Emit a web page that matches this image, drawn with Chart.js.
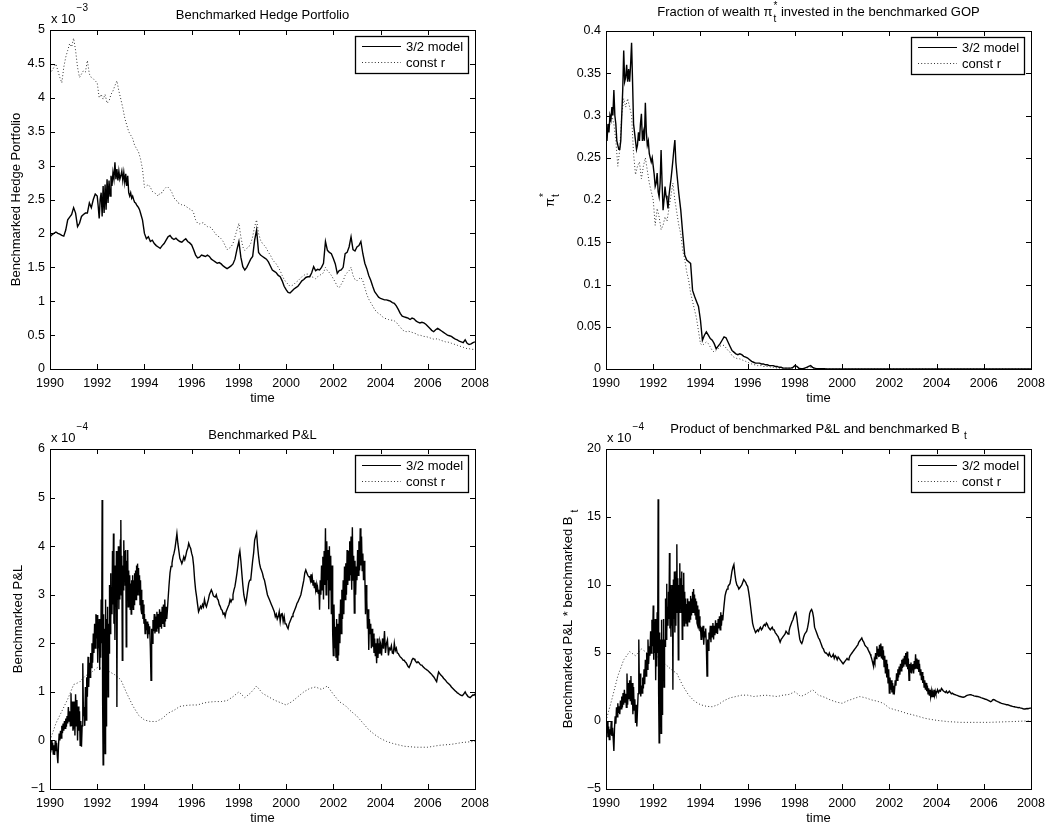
<!DOCTYPE html>
<html>
<head>
<meta charset="utf-8">
<title>Benchmarked hedge portfolio: 3/2 model vs const r</title>
<script src="https://cdn.jsdelivr.net/npm/chart.js@4"></script>
<style>
  html, body { margin: 0; padding: 0; background: #fff; }
  #wrap { position: relative; width: 1058px; height: 825px; background: #fff; }
  #wrap canvas { position: absolute; }
</style>
</head>
<body>
<div id="wrap">
  <canvas id="c1" width="529" height="410" style="left:0;top:0"></canvas>
  <canvas id="c2" width="529" height="410" style="left:529px;top:0"></canvas>
  <canvas id="c3" width="529" height="415" style="left:0;top:410px"></canvas>
  <canvas id="c4" width="529" height="415" style="left:529px;top:410px"></canvas>
</div>
<script>
// ---------------------------------------------------------------------------
// Data. Each row holds one calendar year, sampled evenly inside the year
// (more samples in the turbulent years); the last row is the single value
// at the start of 2008.
// ---------------------------------------------------------------------------
const yearTicks = [1990, 1992, 1994, 1996, 1998, 2000, 2002, 2004, 2006, 2008];

// Benchmarked hedge portfolio, units of 1e-3
const hedgeModel = [
  [1.95, 1.98, 2.0, 2.02, 2.0, 1.99, 1.97, 1.96, 2.05, 2.2, 2.24, 2.28],
  [2.38, 2.3, 2.1, 2.15, 2.25, 2.28, 2.3, 2.3, 2.45, 2.38, 2.5, 2.58],
  [2.55, 2.4, 2.22, 2.5, 2.6, 2.25, 2.7, 2.3, 2.72, 2.35, 2.8, 2.45, 2.78, 2.55, 2.85, 2.7, 2.9, 2.8, 3.05, 2.8, 2.95, 2.78, 2.92, 2.8],
  [2.85, 2.92, 2.78, 2.9, 2.75, 2.88, 2.7, 2.85, 2.6, 2.55, 2.6, 2.52, 2.55, 2.5, 2.46, 2.45, 2.42, 2.4, 2.38, 2.35, 2.3, 2.25, 2.2, 2.1],
  [2.0, 1.92, 1.95, 1.88, 1.9, 1.85, 1.82, 1.8, 1.78, 1.82, 1.85, 1.9],
  [1.95, 1.97, 1.93, 1.91, 1.93, 1.9, 1.88, 1.87, 1.9, 1.92, 1.88, 1.86],
  [1.83, 1.76, 1.68, 1.64, 1.65, 1.68, 1.67, 1.66, 1.68, 1.66, 1.62, 1.6],
  [1.58, 1.56, 1.57, 1.55, 1.52, 1.5, 1.48, 1.5, 1.52, 1.55, 1.62, 1.76],
  [1.88, 1.65, 1.51, 1.46, 1.5, 1.56, 1.62, 1.66, 1.9, 2.05, 1.72, 1.68],
  [1.66, 1.64, 1.62, 1.58, 1.52, 1.46, 1.44, 1.42, 1.38, 1.36, 1.3, 1.22],
  [1.17, 1.13, 1.12, 1.15, 1.18, 1.2, 1.22, 1.26, 1.3, 1.32, 1.35, 1.36],
  [1.36, 1.42, 1.51, 1.45, 1.47, 1.46, 1.5, 1.56, 1.88, 1.75, 1.72, 1.7],
  [1.63, 1.55, 1.41, 1.45, 1.46, 1.5, 1.7, 1.72, 1.8, 1.95, 1.76, 1.74],
  [1.8, 1.82, 1.88, 1.7, 1.56, 1.48, 1.38, 1.31, 1.22, 1.14, 1.1, 1.06],
  [1.04, 1.03, 1.02, 1.02, 1.01, 1.0, 0.98, 0.97, 0.93, 0.88, 0.82, 0.78],
  [0.77, 0.76, 0.75, 0.73, 0.75, 0.74, 0.71, 0.69, 0.68, 0.69, 0.68, 0.66],
  [0.63, 0.6, 0.57, 0.55, 0.58, 0.6, 0.58, 0.56, 0.54, 0.52, 0.5, 0.49],
  [0.48, 0.46, 0.44, 0.43, 0.41, 0.4, 0.39, 0.43, 0.38, 0.36, 0.37, 0.39],
  [0.4]
];
const hedgeConstR = [
  [4.35, 4.4, 4.45, 4.5, 4.4, 4.3, 4.22, 4.45, 4.6, 4.7, 4.8, 4.75],
  [4.88, 4.7, 4.45, 4.3, 4.35, 4.4, 4.38, 4.55, 4.35, 4.3, 4.28, 4.25],
  [4.22, 4.0, 4.05, 3.98, 4.05, 3.92, 3.95, 4.05, 4.1, 4.18, 4.25, 4.1],
  [3.98, 3.85, 3.7, 3.6, 3.5, 3.45, 3.4, 3.3, 3.25, 3.2, 3.1, 2.95],
  [2.68, 2.7, 2.72, 2.68, 2.62, 2.6, 2.58, 2.55, 2.6, 2.6, 2.65, 2.68],
  [2.68, 2.65, 2.6, 2.52, 2.5, 2.45, 2.44, 2.42, 2.42, 2.4, 2.38, 2.36],
  [2.35, 2.3, 2.2, 2.15, 2.14, 2.15, 2.16, 2.12, 2.1, 2.1, 2.08, 2.04],
  [2.0, 1.96, 1.95, 1.92, 1.88, 1.82, 1.76, 1.78, 1.8, 1.85, 1.95, 2.05],
  [2.15, 1.95, 1.8, 1.75, 1.78, 1.8, 1.85, 1.95, 2.1, 2.2, 2.0, 1.9],
  [1.85, 1.82, 1.78, 1.72, 1.68, 1.62, 1.58, 1.55, 1.5, 1.45, 1.38, 1.32],
  [1.28, 1.25, 1.22, 1.23, 1.25, 1.28, 1.3, 1.33, 1.36, 1.38, 1.4, 1.4],
  [1.38, 1.36, 1.35, 1.33, 1.36, 1.38, 1.4, 1.42, 1.5, 1.45, 1.42, 1.38],
  [1.33, 1.28, 1.22, 1.2, 1.25, 1.3, 1.38, 1.42, 1.45, 1.5, 1.38, 1.32],
  [1.3, 1.33, 1.35, 1.3, 1.2, 1.1, 1.03, 0.98, 0.93, 0.88, 0.84, 0.82],
  [0.8, 0.77, 0.75, 0.74, 0.73, 0.72, 0.72, 0.71, 0.69, 0.65, 0.62, 0.58],
  [0.56, 0.55, 0.56, 0.55, 0.54, 0.53, 0.52, 0.5, 0.5, 0.49, 0.48, 0.48],
  [0.47, 0.46, 0.45, 0.44, 0.44, 0.45, 0.43, 0.42, 0.41, 0.4, 0.4, 0.39],
  [0.38, 0.37, 0.36, 0.35, 0.34, 0.33, 0.32, 0.31, 0.3, 0.3, 0.29, 0.29],
  [0.29]
];
const hedgeTicks = [0, 0.5, 1, 1.5, 2, 2.5, 3, 3.5, 4, 4.5, 5];

// Fraction of wealth pi*_t held in the benchmarked GOP
const piModel = [
  [0.28, 0.27, 0.29, 0.28, 0.3, 0.295, 0.31, 0.3, 0.33, 0.3, 0.29, 0.27, 0.265, 0.26, 0.26, 0.27, 0.3, 0.33, 0.377, 0.34, 0.345, 0.36, 0.34, 0.355],
  [0.34, 0.36, 0.386, 0.34, 0.29, 0.28, 0.27, 0.26, 0.265, 0.28, 0.27, 0.29, 0.302, 0.27, 0.28, 0.27, 0.315, 0.28, 0.265, 0.27, 0.255, 0.25, 0.245, 0.25],
  [0.24, 0.23, 0.216, 0.22, 0.232, 0.21, 0.204, 0.22, 0.259, 0.22, 0.188, 0.2, 0.216, 0.205, 0.2, 0.19, 0.205, 0.215, 0.224, 0.235, 0.247, 0.26, 0.271, 0.245],
  [0.232, 0.208, 0.188, 0.16, 0.135, 0.129, 0.127, 0.125, 0.093, 0.086, 0.08, 0.074],
  [0.058, 0.034, 0.04, 0.044, 0.04, 0.036, 0.034, 0.03, 0.024, 0.027, 0.03, 0.034],
  [0.038, 0.037, 0.032, 0.027, 0.022, 0.02, 0.018, 0.017, 0.018, 0.017, 0.015, 0.014],
  [0.013, 0.011, 0.009, 0.008, 0.007, 0.007, 0.007, 0.006, 0.006, 0.005, 0.005, 0.004],
  [0.004, 0.004, 0.003, 0.003, 0.002, 0.002, 0.001, 0.001, 0.001, 0.001, 0.001, 0.002],
  [0.004, 0.003, 0.001, 0.0005, 0.0005, 0.001, 0.002, 0.003, 0.004, 0.002, 0.001, 0.0005],
  [0.0005, 0.0005, 0.0003, 0.0003, 0.0002, 0.0002, 0.0001, 0.0001, 0.0001, 0, 0, 0],
  [0, 0, 0, 0, 0, 0, 0, 0, 0, 0, 0, 0],
  [0, 0, 0, 0, 0, 0, 0, 0, 0, 0, 0, 0],
  [0, 0, 0, 0, 0, 0, 0, 0, 0, 0, 0, 0],
  [0, 0, 0, 0, 0, 0, 0, 0, 0, 0, 0, 0],
  [0, 0, 0, 0, 0, 0, 0, 0, 0, 0, 0, 0],
  [0, 0, 0, 0, 0, 0, 0, 0, 0, 0, 0, 0],
  [0, 0, 0, 0, 0, 0, 0, 0, 0, 0, 0, 0],
  [0, 0, 0, 0, 0, 0, 0, 0, 0, 0, 0, 0],
  [0]
];
const piConstR = [
  [0.27, 0.28, 0.29, 0.3, 0.29, 0.27, 0.24, 0.26, 0.3, 0.32, 0.31, 0.32],
  [0.31, 0.3, 0.255, 0.23, 0.24, 0.245, 0.225, 0.24, 0.25, 0.235, 0.22, 0.21],
  [0.2, 0.17, 0.19, 0.18, 0.165, 0.17, 0.18, 0.175, 0.19, 0.205, 0.22, 0.2],
  [0.185, 0.17, 0.16, 0.14, 0.13, 0.115, 0.105, 0.09, 0.08, 0.07, 0.06, 0.045],
  [0.03, 0.028, 0.03, 0.032, 0.03, 0.026, 0.022, 0.02, 0.022, 0.024, 0.027, 0.028],
  [0.028, 0.025, 0.022, 0.02, 0.016, 0.014, 0.013, 0.012, 0.012, 0.011, 0.01, 0.009],
  [0.008, 0.007, 0.006, 0.005, 0.005, 0.004, 0.004, 0.004, 0.003, 0.003, 0.003, 0.003],
  [0.002, 0.002, 0.002, 0.001, 0.001, 0.001, 0.001, 0.001, 0.001, 0.001, 0.001, 0.001],
  [0.002, 0.001, 0.0005, 0, 0, 0.001, 0.001, 0.002, 0.002, 0.001, 0.0005, 0],
  [0, 0, 0, 0, 0, 0, 0, 0, 0, 0, 0, 0],
  [0, 0, 0, 0, 0, 0, 0, 0, 0, 0, 0, 0],
  [0, 0, 0, 0, 0, 0, 0, 0, 0, 0, 0, 0],
  [0, 0, 0, 0, 0, 0, 0, 0, 0, 0, 0, 0],
  [0, 0, 0, 0, 0, 0, 0, 0, 0, 0, 0, 0],
  [0, 0, 0, 0, 0, 0, 0, 0, 0, 0, 0, 0],
  [0, 0, 0, 0, 0, 0, 0, 0, 0, 0, 0, 0],
  [0, 0, 0, 0, 0, 0, 0, 0, 0, 0, 0, 0],
  [0, 0, 0, 0, 0, 0, 0, 0, 0, 0, 0, 0],
  [0]
];
const piTicks = [0, 0.05, 0.1, 0.15, 0.2, 0.25, 0.3, 0.35, 0.4];

// Benchmarked P&L, units of 1e-4
const pnlModel = [
  [-0.1, -0.25, 0.0, -0.2, -0.05, -0.28, -0.1, -0.3, 0.0, -0.22, -0.05, -0.3, -0.47, -0.1, 0.14, 0.0, 0.2, 0.05, 0.3, 0.15, 0.35, 0.2, 0.4, 0.25, 0.45, 0.28, 0.5, 0.35, 0.69, 0.4, 0.6, 0.3, 0.97, 0.3, 0.8, 0.2],
  [0.28, 0.8, 0.1, 0.95, 0.3, 0.83, 0.0, 0.7, 0.2, 0.6, -0.1, 0.4, -0.13, 0.3, 1.59, 0.5, 0.69, 0.3, 1.1, 0.42, 1.3, 0.9, 1.72, 1.1, 1.6, 1.3, 1.8, 1.5, 2.0, 1.6, 2.2, 1.8, 2.4, 1.9, 2.6, 2.1],
  [2.58, 1.6, 2.3, 1.9, 2.5, 1.45, 2.2, 1.7, 2.9, 2.0, 4.95, 0.8, -0.5, 2.6, 0.5, 2.3, -0.27, 2.9, 0.3, 2.5, 1.2, 2.75, 0.9, 2.4, 1.8, 3.2, 2.2, 3.44, 2.5, 3.16, 2.6, 3.9, 2.8, 4.26, 2.4, 3.6, 2.07, 3.5, 2.8, 3.9, 0.69, 3.78, 2.9, 4.0, 2.7, 3.9, 2.9, 4.12],
  [4.54, 3.0, 3.8, 1.65, 3.6, 3.1, 4.12, 3.3, 3.9, 3.2, 3.92, 1.93, 3.7, 3.0, 3.92, 2.75, 3.5, 2.8, 3.4, 2.7, 3.23, 2.6, 3.3, 2.75, 3.4, 2.7, 3.3, 2.8, 3.44, 2.9, 3.5, 2.9, 3.6, 3.0, 3.64, 3.1, 3.55, 3.0, 3.4, 2.8, 3.3, 2.7, 3.1, 2.6, 2.89, 2.5, 2.8, 2.4],
  [2.6, 2.2, 2.5, 2.27, 2.45, 2.1, 2.4, 2.2, 2.35, 1.9, 1.24, 2.3, 2.0, 2.48, 2.25, 2.6, 2.2, 2.55, 2.25, 2.65, 2.3, 2.6, 2.2, 2.7, 2.35, 2.65, 2.3, 2.75, 2.4, 2.8, 2.35, 2.9, 2.45, 2.75, 2.5, 2.68],
  [2.9, 3.2, 3.45, 3.58, 3.65, 3.78, 3.85, 3.95, 4.1, 4.26, 4.05, 3.9, 3.75, 3.7, 3.64, 3.7, 3.78, 3.72, 3.8, 3.9, 3.95, 4.06, 4.0, 3.95],
  [3.85, 3.78, 3.6, 3.31, 3.1, 2.96, 2.8, 2.65, 2.7, 2.76, 2.72, 2.8, 2.75, 2.9, 2.8, 2.75, 2.83, 2.9, 3.0, 3.05, 3.1, 3.05, 2.98, 2.96],
  [2.95, 3.0, 2.92, 2.89, 2.8, 2.76, 2.7, 2.68, 2.6, 2.62, 2.55, 2.65, 2.7, 2.75, 2.8, 2.9, 2.85, 2.9, 3.0, 3.1, 3.17, 3.3, 3.44, 3.6],
  [3.8, 3.9, 3.7, 3.44, 3.2, 3.0, 2.9, 2.82, 2.95, 3.1, 3.24, 3.3, 3.3, 3.5, 3.7, 3.86, 4.12, 4.2, 4.27, 4.0, 3.8, 3.64, 3.55, 3.5],
  [3.44, 3.35, 3.3, 3.2, 3.1, 3.0, 2.95, 2.9, 2.85, 2.8, 2.75, 2.7, 2.65, 2.55, 2.6, 2.5, 2.55, 2.65, 2.45, 2.6, 2.61, 2.45, 2.55, 2.4],
  [2.4, 2.34, 2.3, 2.4, 2.45, 2.5, 2.55, 2.6, 2.65, 2.7, 2.75, 2.82, 2.85, 2.9, 2.95, 3.0, 3.1, 3.2, 3.3, 3.45, 3.51, 3.45, 3.4, 3.37],
  [3.37, 3.3, 3.42, 3.25, 3.35, 3.2, 3.3, 3.15, 3.25, 3.1, 3.2, 3.05, 3.15, 3.03, 3.1, 2.69, 3.3, 3.0, 3.6, 3.1, 3.78, 2.9, 3.9, 3.2, 4.37, 3.0, 4.1, 3.3, 3.92, 2.7, 4.0, 3.1, 3.8, 2.6, 3.6, 2.2],
  [1.75, 2.8, 1.9, 2.34, 1.7, 2.5, 1.65, 2.4, 1.75, 2.61, 2.0, 2.9, 2.2, 3.1, 2.5, 3.3, 2.6, 3.58, 2.9, 3.65, 3.0, 3.92, 3.2, 3.9, 3.3, 4.1, 3.4, 4.2, 3.1, 4.39, 3.3, 3.8, 2.62, 3.7, 3.0, 3.58],
  [3.3, 3.92, 3.4, 4.1, 3.5, 4.37, 3.6, 4.2, 3.5, 3.85, 3.3, 3.7, 3.44, 2.6, 3.2, 2.89, 2.3, 2.7, 1.86, 2.5, 2.2, 2.4, 1.9, 2.3, 1.93, 2.2, 1.8, 2.1, 1.75, 2.0, 1.59, 2.1, 1.7, 2.0, 1.8, 2.05],
  [2.0, 1.75, 2.1, 1.89, 2.25, 1.8, 2.0, 2.07, 1.75, 1.9, 1.87, 1.95, 1.8, 1.79, 2.0, 1.85, 1.9, 1.8, 1.79, 1.75, 1.72, 1.7, 1.68, 1.65],
  [1.65, 1.62, 1.6, 1.56, 1.52, 1.5, 1.55, 1.6, 1.66, 1.69, 1.68, 1.65, 1.62, 1.6, 1.62, 1.6, 1.57, 1.55, 1.55, 1.52, 1.5, 1.48, 1.47, 1.45],
  [1.44, 1.42, 1.4, 1.38, 1.36, 1.33, 1.31, 1.28, 1.24, 1.21, 1.32, 1.41, 1.38, 1.35, 1.33, 1.31, 1.28, 1.26, 1.24, 1.21, 1.19, 1.17, 1.15, 1.13],
  [1.1, 1.08, 1.06, 1.04, 1.02, 1.0, 0.98, 0.97, 0.95, 0.94, 0.93, 0.92, 0.94, 0.97, 1.0, 0.96, 0.93, 0.9, 0.89, 0.88, 0.9, 0.92, 0.94, 0.93],
  [0.96]
];
const pnlConstR = [
  [0.0, 0.35, 0.6, 0.85],
  [1.15, 1.2, 1.33, 1.4],
  [1.5, 1.48, 1.42, 1.35],
  [1.25, 0.97, 0.72, 0.52],
  [0.42, 0.39, 0.39, 0.45],
  [0.56, 0.62, 0.7, 0.72],
  [0.73, 0.73, 0.77, 0.79],
  [0.8, 0.8, 0.82, 0.9],
  [1.0, 0.88, 0.98, 1.12],
  [0.97, 0.9, 0.83, 0.78],
  [0.73, 0.8, 0.9, 1.0],
  [1.07, 1.1, 1.05, 1.12],
  [0.95, 0.8, 0.72, 0.6],
  [0.5, 0.36, 0.22, 0.12],
  [0.04, -0.02, -0.06, -0.09],
  [-0.12, -0.13, -0.14, -0.14],
  [-0.14, -0.12, -0.1, -0.09],
  [-0.08, -0.06, -0.04, -0.03],
  [-0.02]
];
const pnlTicks = [-1, 0, 1, 2, 3, 4, 5, 6];

// Benchmarked P&L times benchmarked B_t, units of 1e-4
const productModel = [
  [-0.3, -0.9, 0.0, -1.2, -0.4, -1.37, -0.6, -1.0, 0.0, -1.1, -0.5, -1.3, -2.2, -0.5, 0.34, -0.2, 1.0, 0.3, 1.3, 0.6, 1.08, 0.5, 1.5, 0.9, 1.8, 1.0, 2.06, 1.2, 2.3, 1.4, 2.0, 1.0, 3.5, 1.2, 2.8, 1.6],
  [3.0, 1.5, 3.3, 1.2, 2.8, 0.5, 2.5, 0.8, 1.6, -0.15, 1.2, -0.4, 0.8, 2.0, 6.0, 2.0, 3.5, 1.8, 2.6, 2.06, 3.2, 2.4, 3.8, 2.7, 4.5, 3.3, 5.0, 3.8, 6.0, 4.2, 5.5, 4.8, 6.6, 5.0, 7.45, 5.5],
  [8.5, 4.5, 7.0, 5.0, 7.5, 3.0, 6.5, 4.0, 8.0, 5.0, 16.3, 2.0, -1.6, 6.5, 1.0, 6.0, -0.9, 7.45, 0.5, 6.0, 3.0, 7.5, 2.5, 6.0, 5.5, 9.0, 6.0, 10.1, 6.5, 8.4, 7.0, 9.5, 7.5, 12.35, 6.8, 10.0, 6.2, 9.5, 7.0, 10.0, 2.3, 10.4, 7.5, 11.0, 6.5, 10.5, 7.0, 11.0],
  [13.0, 8.0, 10.5, 4.5, 10.0, 8.0, 11.6, 8.5, 10.5, 8.0, 11.0, 6.0, 10.0, 7.5, 10.9, 7.0, 9.5, 7.5, 9.0, 7.2, 8.6, 7.0, 9.0, 7.5, 8.8, 7.3, 8.8, 7.5, 9.2, 7.8, 9.0, 8.0, 9.5, 8.0, 9.7, 8.2, 9.3, 7.8, 9.0, 7.5, 8.8, 7.2, 8.5, 7.0, 8.2, 6.8, 7.7, 6.6],
  [7.0, 6.0, 6.9, 6.5, 7.0, 5.6, 6.6, 6.2, 6.8, 5.5, 3.3, 6.0, 5.2, 6.5, 6.0, 7.0, 5.8, 7.0, 6.2, 7.2, 6.0, 7.0, 6.3, 7.4, 6.5, 7.2, 6.4, 7.5, 6.8, 7.7, 6.7, 8.0, 7.0, 7.8, 7.4, 8.0],
  [8.5, 9.2, 9.5, 9.7, 9.9, 10.0, 10.1, 10.5, 11.0, 11.3, 11.5, 10.8, 10.3, 10.0, 9.9, 9.7, 9.8, 9.9, 10.0, 10.2, 10.4, 10.3, 10.2, 10.0],
  [9.9, 9.5, 9.0, 8.4, 7.8, 7.2, 6.9, 6.7, 6.5, 6.6, 6.7, 6.6, 6.8, 6.9, 6.7, 6.8, 7.0, 7.1, 7.0, 7.2, 7.1, 6.9, 6.8, 6.7],
  [6.8, 6.9, 6.7, 6.7, 6.5, 6.4, 6.3, 6.2, 6.0, 5.8, 6.0, 6.1, 6.2, 6.3, 6.4, 6.6, 6.5, 6.4, 6.6, 6.9, 7.1, 7.3, 7.45, 7.7],
  [7.9, 8.0, 7.6, 7.0, 6.5, 6.0, 5.8, 5.7, 5.9, 6.2, 6.4, 6.5, 6.6, 6.9, 7.3, 7.9, 8.1, 8.2, 8.0, 7.6, 6.9, 6.7, 6.5, 6.3],
  [6.1, 6.0, 5.8, 5.6, 5.4, 5.3, 5.1, 5.0, 5.0, 4.9, 4.8, 5.0, 4.8, 4.7, 4.75, 4.9, 4.6, 4.8, 4.7, 4.5, 4.7, 4.6, 4.5, 4.4],
  [4.3, 4.2, 4.3, 4.4, 4.5, 4.6, 4.5, 4.6, 4.8, 4.9, 5.0, 5.1, 5.2, 5.3, 5.4, 5.5, 5.6, 5.8, 5.9, 6.0, 6.1, 5.9, 5.8, 5.6],
  [5.5, 5.45, 5.4, 5.3, 5.2, 5.1, 5.0, 4.9, 4.75, 4.6, 4.4, 4.2, 4.0, 4.5, 4.3, 5.0, 4.6, 5.5, 4.8, 5.3, 4.7, 5.6, 4.8, 5.7, 4.6, 5.5, 4.5, 5.2, 4.0, 4.8, 3.5, 4.5, 3.2, 4.2, 2.8, 3.8],
  [2.06, 3.2, 2.3, 3.0, 2.1, 2.8, 2.0, 2.6, 2.3, 3.0, 2.6, 3.5, 3.0, 3.8, 3.2, 4.0, 3.4, 4.2, 3.7, 4.5, 3.9, 4.6, 4.0, 4.8, 4.2, 5.0, 4.0, 5.1, 3.8, 4.6, 3.0, 4.2, 3.6, 4.3, 3.5, 4.1],
  [4.2, 3.5, 4.4, 3.8, 4.9, 3.9, 4.6, 3.8, 4.5, 3.6, 4.2, 3.4, 3.8, 3.0, 3.6, 2.8, 3.3, 2.5, 3.0, 2.3, 2.8, 2.2, 2.6, 2.0, 2.4, 1.9, 2.3, 1.8, 2.2, 1.75, 2.1, 1.8, 2.3, 1.9, 2.2, 2.0],
  [2.06, 2.3, 2.1, 2.25, 2.2, 2.4, 2.3, 2.2, 2.15, 2.1, 2.2, 2.06, 2.1, 2.2, 2.1, 2.0, 2.05, 2.0, 1.95, 1.94, 1.9, 1.88, 1.85, 1.82],
  [1.8, 1.78, 1.76, 1.75, 1.76, 1.8, 1.84, 1.88, 1.9, 1.92, 1.94, 1.93, 1.9, 1.88, 1.85, 1.83, 1.82, 1.8, 1.8, 1.78, 1.75, 1.72, 1.7, 1.67],
  [1.65, 1.62, 1.6, 1.57, 1.54, 1.5, 1.46, 1.42, 1.45, 1.55, 1.58, 1.55, 1.5, 1.47, 1.43, 1.4, 1.36, 1.33, 1.3, 1.28, 1.26, 1.24, 1.22, 1.2],
  [1.2, 1.18, 1.15, 1.12, 1.1, 1.08, 1.06, 1.05, 1.03, 1.02, 1.0, 0.98, 1.0, 0.97, 0.95, 0.93, 0.9, 0.88, 0.88, 0.9, 0.92, 0.9, 0.93, 0.95],
  [0.95]
];
const productConstR = [
  [0.0, 1.6, 3.3, 4.5],
  [5.1, 4.8, 5.3, 5.0],
  [5.0, 4.6, 4.2, 3.8],
  [3.5, 2.6, 1.9, 1.45],
  [1.2, 1.08, 1.05, 1.2],
  [1.5, 1.7, 1.8, 1.9],
  [1.9, 1.8, 1.85, 1.9],
  [1.85, 1.8, 1.9, 1.95],
  [2.15, 1.8, 2.0, 2.3],
  [1.9, 1.75, 1.55, 1.4],
  [1.3, 1.5, 1.65, 1.8],
  [1.7, 1.55, 1.45, 1.3],
  [0.95, 0.82, 0.7, 0.55],
  [0.45, 0.33, 0.2, 0.12],
  [0.05, 0.0, -0.05, -0.07],
  [-0.1, -0.1, -0.1, -0.1],
  [-0.1, -0.1, -0.08, -0.07],
  [-0.05, -0.04, -0.02, 0.0],
  [0.0]
];
const productTicks = [-5, 0, 5, 10, 15, 20];

const seriesNames = ['3/2 model', 'const r'];

// ---------------------------------------------------------------------------
// Rendering
// ---------------------------------------------------------------------------
const FONT = "'Liberation Sans', Arial, Helvetica, sans-serif";
const BASE = 13;     // titles, axis labels, legend
const SMALL = 10;    // sub/superscripts
const TICK = 12.5;   // tick labels
const Y_AXIS_W = 45;
const X_AXIS_H = 25;

Chart.defaults.font.family = FONT;
Chart.defaults.color = '#000';

function font(size) { return size + 'px ' + FONT; }

// Year rows -> {x, y} points, each row spread evenly across its year
function toPoints(rows) {
  const pts = [];
  rows.forEach((row, r) => {
    row.forEach((v, k) => pts.push({ x: 1990 + r + k / row.length, y: v }));
  });
  return pts;
}

function runsWidth(ctx, runs) {
  let w = 0;
  runs.forEach(r => {
    if (r.t !== undefined) {
      ctx.font = font(BASE);
      w += ctx.measureText(r.t).width;
    } else {
      ctx.font = font(SMALL);
      const a = r.sup ? ctx.measureText(r.sup).width : 0;
      const b = r.sub ? ctx.measureText(r.sub).width : 0;
      w += (r.gap || 0) + Math.max(a, b);
    }
  });
  return w;
}

// Text with TeX-like sub/superscripts, centred on x, baseline y
function drawRuns(ctx, runs, x, y) {
  let cx = x - runsWidth(ctx, runs) / 2;
  ctx.textAlign = 'left';
  ctx.textBaseline = 'alphabetic';
  ctx.fillStyle = '#000';
  runs.forEach(r => {
    if (r.t !== undefined) {
      ctx.font = font(BASE);
      ctx.fillText(r.t, cx, y);
      cx += ctx.measureText(r.t).width;
    } else {
      ctx.font = font(SMALL);
      const gx = cx + (r.gap || 0);
      if (r.sup) ctx.fillText(r.sup, gx, y - (r.rise || 7));
      if (r.sub) ctx.fillText(r.sub, gx, y + (r.drop || 5));
      const a = r.sup ? ctx.measureText(r.sup).width : 0;
      const b = r.sub ? ctx.measureText(r.sub).width : 0;
      cx = gx + Math.max(a, b);
    }
  });
}

const framePlugin = {
  id: 'frame',
  afterDraw(chart, args, o) {
    const ctx = chart.ctx;
    const { left, top, right, bottom } = chart.chartArea;
    const xs = chart.scales.x, ys = chart.scales.y;
    ctx.save();

    // axes box and inward tick marks on all four sides
    ctx.strokeStyle = '#000';
    ctx.lineWidth = 1;
    ctx.strokeRect(left + 0.5, top + 0.5, right - left, bottom - top);
    ctx.beginPath();
    xs.ticks.forEach(t => {
      const px = Math.round(xs.getPixelForValue(t.value)) + 0.5;
      ctx.moveTo(px, bottom); ctx.lineTo(px, bottom - 5);
      ctx.moveTo(px, top); ctx.lineTo(px, top + 5);
    });
    ys.ticks.forEach(t => {
      const py = Math.round(ys.getPixelForValue(t.value)) + 0.5;
      ctx.moveTo(left, py); ctx.lineTo(left + 5, py);
      ctx.moveTo(right, py); ctx.lineTo(right - 5, py);
    });
    ctx.stroke();

    // legend box in the upper right corner
    const lw = 113, lh = 37;
    const lx = right - 7 - lw, ly = top + 6;
    ctx.fillStyle = '#fff';
    ctx.fillRect(lx, ly, lw, lh);
    ctx.lineWidth = 1.3;
    ctx.strokeRect(Math.round(lx) + 0.5, Math.round(ly) + 0.5, lw, lh);
    chart.data.datasets.forEach((ds, i) => {
      const yy = ly + 10.5 + 16 * i;
      ctx.save();
      ctx.strokeStyle = ds.borderColor;
      ctx.lineWidth = Math.min(ds.borderWidth, 1.2);
      ctx.setLineDash(ds.borderDash || []);
      ctx.beginPath();
      ctx.moveTo(lx + 7, yy);
      ctx.lineTo(lx + 46, yy);
      ctx.stroke();
      ctx.restore();
      ctx.fillStyle = '#000';
      ctx.font = font(BASE);
      ctx.textAlign = 'left';
      ctx.textBaseline = 'middle';
      ctx.fillText(ds.label, lx + 51, yy + 0.5);
    });

    // title, axis labels, exponent
    const cxm = (left + right) / 2;
    const cym = (top + bottom) / 2;
    drawRuns(ctx, o.title, cxm, top - o.titleOffset);
    drawRuns(ctx, [{ t: 'time' }], cxm, bottom + 32.5);

    ctx.save();
    ctx.translate(o.ylabelX, cym);
    ctx.rotate(-Math.PI / 2);
    drawRuns(ctx, o.ylabel, 0, 0);
    ctx.restore();

    if (o.exponent) {
      ctx.font = font(BASE);
      ctx.textAlign = 'left';
      ctx.textBaseline = 'alphabetic';
      ctx.fillStyle = '#000';
      ctx.fillText('x 10', left + 1, top - 7.5);
      const w = ctx.measureText('x 10').width;
      ctx.font = font(SMALL);
      ctx.fillText(o.exponent, left + 2 + w, top - 19.5);
    }
    ctx.restore();
  }
};

function makeChart(cfg) {
  const canvas = document.getElementById(cfg.id);
  const W = canvas.width, H = canvas.height;
  const a = cfg.area;
  const tickFmt = v => String(v).replace('-', '\u2212');
  return new Chart(canvas, {
    type: 'line',
    data: {
      datasets: [
        {
          label: seriesNames[0],
          data: toPoints(cfg.model),
          borderColor: '#000',
          borderWidth: 1.4,
          pointRadius: 0,
          tension: 0
        },
        {
          label: seriesNames[1],
          data: toPoints(cfg.constR),
          borderColor: '#333',
          borderWidth: 1,
          borderDash: [1, 2.2],
          pointRadius: 0,
          tension: 0
        }
      ]
    },
    options: {
      responsive: false,
      animation: false,
      events: [],
      layout: {
        padding: {
          left: a.l - Y_AXIS_W,
          top: a.t,
          right: W - a.r,
          bottom: H - a.b - X_AXIS_H
        }
      },
      plugins: {
        legend: { display: false },
        tooltip: { enabled: false },
        title: { display: false },
        frame: {
          title: cfg.title,
          titleOffset: cfg.titleOffset,
          ylabel: cfg.ylabel,
          ylabelX: cfg.ylabelX,
          exponent: cfg.exponent
        }
      },
      scales: {
        x: {
          type: 'linear',
          min: 1990,
          max: 2008,
          afterBuildTicks: s => { s.ticks = yearTicks.map(v => ({ value: v })); },
          afterFit: s => { s.height = X_AXIS_H; },
          grid: { display: false, drawTicks: false },
          border: { display: false },
          ticks: {
            callback: v => String(v),
            font: { size: TICK },
            color: '#000',
            padding: 7,
            maxRotation: 0,
            autoSkip: false
          }
        },
        y: {
          type: 'linear',
          min: cfg.yTicks[0],
          max: cfg.yTicks[cfg.yTicks.length - 1],
          afterBuildTicks: s => { s.ticks = cfg.yTicks.map(v => ({ value: v })); },
          afterFit: s => { s.width = Y_AXIS_W; },
          grid: { display: false, drawTicks: false },
          border: { display: false },
          ticks: {
            callback: tickFmt,
            font: { size: TICK },
            color: '#000',
            padding: 5,
            autoSkip: false
          }
        }
      }
    },
    plugins: [framePlugin]
  });
}

makeChart({
  id: 'c1',
  area: { l: 50, t: 30, r: 475, b: 369 },
  model: hedgeModel, constR: hedgeConstR, yTicks: hedgeTicks,
  title: [{ t: 'Benchmarked Hedge Portfolio' }], titleOffset: 11,
  ylabel: [{ t: 'Benchmarked Hedge Portfolio' }], ylabelX: 19.5,
  exponent: '\u22123'
});

makeChart({
  id: 'c2',
  area: { l: 77, t: 31, r: 502, b: 369 },
  model: piModel, constR: piConstR, yTicks: piTicks,
  title: [{ t: 'Fraction of wealth \u03c0' }, { sup: '*', sub: 't', gap: 1, rise: 7, drop: 6 },
          { t: ' invested in the benchmarked GOP' }], titleOffset: 15,
  ylabel: [{ t: '\u03c0' }, { sup: '*', sub: 't', gap: 1, rise: 7, drop: 5 }], ylabelX: 25
});

makeChart({
  id: 'c3',
  area: { l: 50, t: 39, r: 475, b: 379 },
  model: pnlModel, constR: pnlConstR, yTicks: pnlTicks,
  title: [{ t: 'Benchmarked P&L' }], titleOffset: 10,
  ylabel: [{ t: 'Benchmarked P&L' }], ylabelX: 22,
  exponent: '\u22124'
});

makeChart({
  id: 'c4',
  area: { l: 77, t: 39, r: 502, b: 379 },
  model: productModel, constR: productConstR, yTicks: productTicks,
  title: [{ t: 'Product of benchmarked P&L and benchmarked B' }, { sub: 't', gap: 4, drop: 6 }], titleOffset: 16,
  ylabel: [{ t: 'Benchmarked P&L * benchmarked B' }, { sub: 't', gap: 4, drop: 6 }], ylabelX: 43,
  exponent: '\u22124'
});
</script>
</body>
</html>
